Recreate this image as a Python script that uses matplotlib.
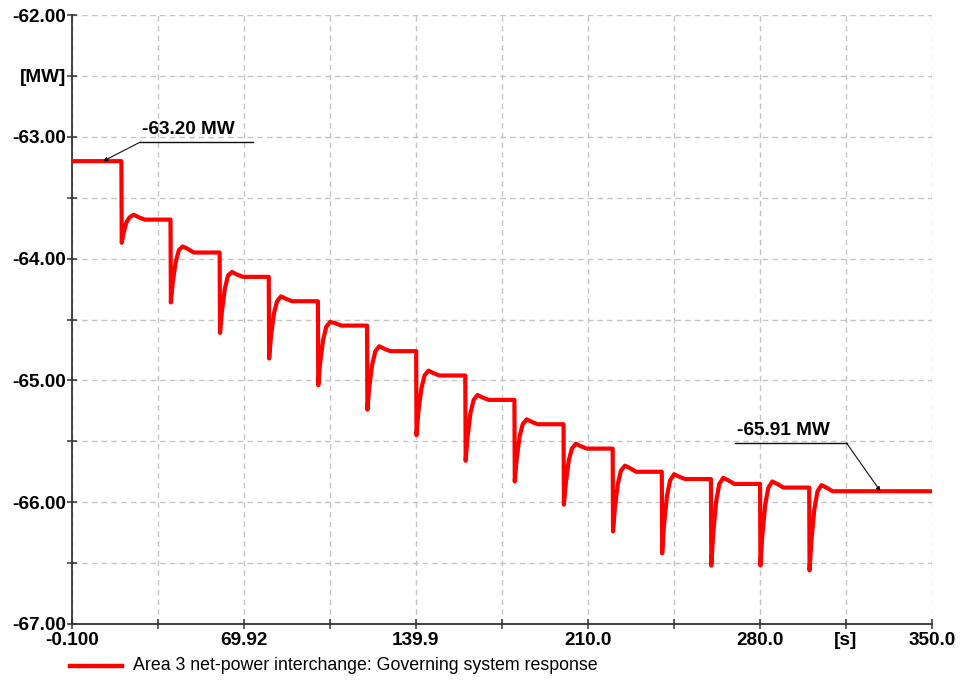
import matplotlib
matplotlib.use("Agg")
import matplotlib.pyplot as plt
from matplotlib.lines import Line2D

plt.rcParams['font.family'] = ['Liberation Sans', 'DejaVu Sans']

# Setpoint change instants [s]
step_times = [20, 40, 60, 80, 100, 120, 140, 160, 180, 200, 220, 240, 260, 280, 300]
# Level held before the first step [MW]
initial_value = -63.20
# Transient readings after each step [MW]
dip_values = [-63.87, -64.36, -64.61, -64.82, -65.04, -65.24, -65.45, -65.66,
              -65.83, -66.02, -66.24, -66.42, -66.52, -66.52, -66.56]
knee_values = [-63.79, -64.20, -64.44, -64.64, -64.86, -65.06, -65.26, -65.47,
               -65.65, -65.85, -66.05, -66.19, -66.27, -66.28, -66.32]
rise_values = [-63.70, -64.03, -64.25, -64.45, -64.67, -64.87, -65.07, -65.27,
               -65.46, -65.66, -65.85, -65.95, -66.00, -66.02, -66.06]
near_values = [-63.66, -63.93, -64.14, -64.35, -64.56, -64.76, -64.96, -65.16,
               -65.36, -65.56, -65.74, -65.82, -65.85, -65.88, -65.91]
peak_values = [-63.64, -63.90, -64.11, -64.31, -64.52, -64.72, -64.92, -65.12,
               -65.32, -65.52, -65.70, -65.77, -65.80, -65.83, -65.86]
post_values = [-63.66, -63.92, -64.13, -64.33, -64.53, -64.74, -64.94, -65.14,
               -65.34, -65.54, -65.72, -65.79, -65.82, -65.85, -65.88]
settle_values = [-63.68, -63.95, -64.15, -64.35, -64.55, -64.76, -64.96, -65.16,
                 -65.36, -65.56, -65.75, -65.81, -65.85, -65.88, -65.91]
# Time after each step at which the readings above apply [s]
transient_offsets = [0.15, 0.9, 2.1, 3.4, 5.0, 7.0, 9.5]

t_start, t_end = -0.1, 350.0

x_ticks = [-0.1, 34.91, 69.92, 104.93, 139.9, 174.95, 210.0, 245.0, 280.0, 315.0, 350.0]
x_labels = ['-0.100', '', '69.92', '', '139.9', '', '210.0', '', '280.0', '[s]', '350.0']
y_ticks = [-67.0, -66.5, -66.0, -65.5, -65.0, -64.5, -64.0, -63.5, -63.0, -62.5, -62.0]
y_labels = ['-67.00', '', '-66.00', '', '-65.00', '', '-64.00', '', '-63.00', '[MW]', '-62.00']

series_label = 'Area 3 net-power interchange: Governing system response'

# Assemble the time trace
t = [t_start]
v = [initial_value]
prev = initial_value
for i, ts in enumerate(step_times):
    t.append(ts)
    v.append(prev)
    vals = [dip_values[i], knee_values[i], rise_values[i], near_values[i],
            peak_values[i], post_values[i], settle_values[i]]
    for dt, val in zip(transient_offsets, vals):
        t.append(ts + dt)
        v.append(val)
    prev = settle_values[i]
t.append(t_end)
v.append(prev)

fig = plt.figure(figsize=(9.68, 6.82), dpi=100)
ax = fig.add_axes([72 / 968, 1 - 624 / 682, 860 / 968, 609 / 682])

ax.plot(t, v, color='#ff0000', lw=3.0, solid_joinstyle='round', zorder=3)

ax.set_xlim(t_start, t_end)
ax.set_ylim(-67.0, -62.0)
ax.set_xticks(x_ticks)
ax.set_xticklabels(x_labels)
ax.set_yticks(y_ticks)
ax.set_yticklabels(y_labels)

ax.grid(True, color='#c4c4c4', linestyle=(0, (4, 3)), linewidth=1.0)
for s in ['top', 'right']:
    ax.spines[s].set_visible(False)
for s in ['left', 'bottom']:
    ax.spines[s].set_color('#333333')
    ax.spines[s].set_linewidth(1.3)

ax.tick_params(axis='both', direction='inout', length=7.2, width=1.1, color='#333333',
               labelsize=13.7)
ax.tick_params(axis='y', pad=0.5)
ax.tick_params(axis='x', pad=2.5)
for lab in ax.get_xticklabels() + ax.get_yticklabels():
    lab.set_fontweight('bold')

# Value callouts
def callout(px, py, ux0, ux1, uy, text):
    ax.add_line(Line2D([ux0, ux1], [uy, uy], color='#111111', lw=1.0, zorder=4))
    ax.annotate('', xy=(px, py), xytext=(ux0 if px < ux0 else ux1, uy),
                arrowprops=dict(arrowstyle='-|>', color='#111111', lw=0.8,
                                mutation_scale=6, shrinkA=0, shrinkB=0), zorder=4)
    ax.text(ux0 + 0.5, uy + 0.03, text, fontsize=13.7, fontweight='bold',
            ha='left', va='bottom', zorder=4)

callout(12.6, initial_value, 27.7, 73.7, -63.043, '-63.20 MW')
callout(329.0, settle_values[-1], 270.0, 315.2, -65.514, '-65.91 MW')

# Legend entry below the axis
fig.add_artist(Line2D([70 / 968, 122 / 968], [1 - 666 / 682] * 2, color='#ff0000', lw=3.2))
fig.text(133 / 968, 1 - 666 / 682, series_label, fontsize=12.8, ha='left', va='center')

fig.savefig('out.png', dpi=100)
